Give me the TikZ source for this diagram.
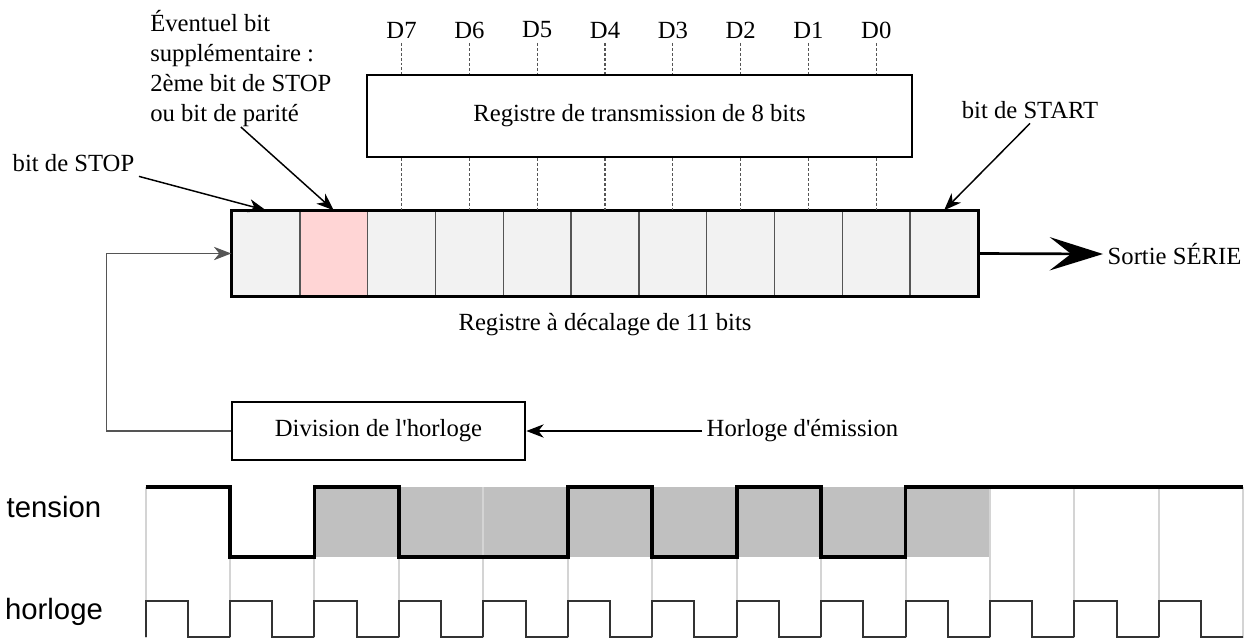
\documentclass[tikz,border=0pt]{standalone}
\usepackage{fontspec}
\setmainfont{Liberation Serif}[Ligatures=TeXOff]
\newfontfamily\sansfont{Liberation Sans}
\usetikzlibrary{arrows.meta}

\definecolor{cellgray}{RGB}{242,242,242}
\definecolor{paritypink}{RGB}{255,213,213}
\definecolor{sigshade}{RGB}{192,192,192}
\definecolor{gridgray}{RGB}{212,212,212}
\definecolor{wiregray}{RGB}{85,85,85}

\begin{document}
\begin{tikzpicture}[x=0.75pt,y=0.75pt,yscale=-1,xscale=1,
	every node/.style={font=\fontsize{18.5}{22.5}\selectfont},
	box/.style={draw=black, line width=2pt, fill=white, inner sep=0pt},
	cell/.style={draw=wiregray, line width=1.1pt, minimum width=50.86pt, minimum height=63.75pt, inner sep=0pt},
	bitline/.style={draw=wiregray, line width=0.8pt, dash pattern=on 2.2pt off 1.5pt},
	pointer/.style={line width=1.1pt, -{Stealth[length=13pt,width=10pt,inset=4pt]}},
	sigfont/.style={font=\sansfont\fontsize{22}{22}\selectfont}]
		\useasboundingbox (0,0) rectangle (1252,638);
		
		% registre a decalage, 11 cases
		\foreach \i/\col in {0/cellgray,1/paritypink,2/cellgray,3/cellgray,4/cellgray,5/cellgray,6/cellgray,7/cellgray,8/cellgray,9/cellgray,10/cellgray}
			\node[cell, fill=\col] (c\i) at ({232+67.82*(\i+0.5)},253.5) {};
		\draw [line width=2pt] (c0.north west) rectangle (c10.south east);
		\node (srlabel) at (605,325) {Registre à décalage de 11 bits};
		
		% registre de transmission
		\node[box, minimum width=408.75pt, minimum height=61.5pt] (txreg) at (639.5,116) {Registre de transmission de 8 bits};
		\foreach \i/\d in {2/7,3/6,4/5,5/4,6/3,7/2,8/1,9/0}{
			\node (d\d) at (c\i |- 0,30) {D\d};
			\draw [bitline] (d\d.south) -- (d\d.south |- txreg.north);
			\draw [bitline] (c\i.north |- txreg.south) -- (c\i.north);
		}
		
		% sortie serie
		\node[anchor=west] (sortie) at (1103,254) {Sortie SÉRIE};
		\draw [line width=2pt, -{Stealth[length=40pt,width=25pt,inset=16pt]}] (c10.east) -- (sortie.west);
		
		% legendes
		\node[anchor=west] (stopl) at (8,163) {bit de STOP};
		\draw [pointer] (stopl.south east) -- (c0.north);
		\node[anchor=north west, align=left, inner sep=0pt] (extra) at (150,10) {Éventuel bit\\supplémentaire :\\2ème bit de STOP\\ou bit de parité};
		\draw [pointer] (extra.south) -- (c1.north);
		\node (startl) at (1030,110) {bit de START};
		\draw [pointer] (startl.south) -- (c10.north);
		
		% horloge
		\node[box, minimum width=219.75pt, minimum height=43.5pt] (divclk) at (378.5,431) {Division de l'horloge};
		\node[anchor=west] (clkin) at (702,431) {Horloge d'émission};
		\draw [pointer] (clkin.west) -- (divclk.east);
		\draw [pointer, wiregray] (divclk.west) -- ++(-124,0) |- (c0.west);
		
		% chronogramme
		\fill [sigshade] (314.4,487) rectangle (990,557);
		\foreach \k in {0,...,13}
			\draw [gridgray, line width=1.5pt] ({145.5+84.45*\k},487) -- ({145.5+84.45*\k},638);
		\draw [line width=2.8pt] (145.5,487) -- (229.95,487) -- (229.95,557) -- (314.4,557) -- (314.4,487) -- (398.85,487) -- (398.85,557) -- (567.75,557) -- (567.75,487) -- (652.2,487) -- (652.2,557) -- (736.65,557) -- (736.65,487) -- (821.1,487) -- (821.1,557) -- (905.55,557) -- (905.55,487) -- (1243.35,487);
		\foreach \k in {0,...,12}
			\draw [line width=1.5pt, color={rgb,255:red,50;green,50;blue,50}] ({145.5+84.45*\k},637) |- ({145.5+84.45*\k+42.2},601) |- ({145.5+84.45*(\k+1)},637);
		\node[sigfont] (tens) at (54,507) {tension};
		\node[sigfont] (horl) at (54,612) {horloge};
\end{tikzpicture}
\end{document}
